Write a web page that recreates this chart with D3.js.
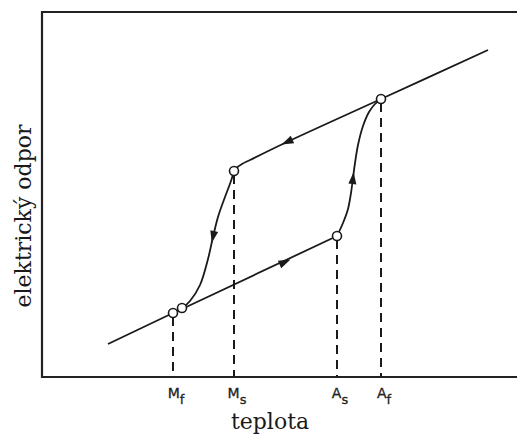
<!DOCTYPE html>
<html><head><meta charset="utf-8">
<script src="https://cdn.jsdelivr.net/npm/d3@7"></script>
<style>body{margin:0;background:#fff}svg{display:block}</style>
</head><body>
<svg id="c" width="517" height="434"></svg>
<script>
// Data (temperature x, resistance y in arbitrary units)
const tickNames = ["M", "M", "A", "A"];
const tickSubs = ["f", "s", "s", "f"];
const tickTemps = [131, 192, 295, 339];
const tickRes = [64, 206, 141, 278];
const lowerLineX = [66, 131, 140, 295];
const lowerLineY = [33, 64, 68, 141];
const upperLineX = [446, 339, 245, 208, 200, 195, 192];
const upperLineY = [327, 278, 235, 217, 213, 209.5, 206];
const coolCurveX = [192, 189, 183, 176, 171, 166, 158, 148, 140];
const coolCurveY = [206, 196, 180, 160, 140, 118, 92, 76, 69];
const heatCurveX = [295, 301, 306, 309, 311, 313, 316, 321, 327, 333, 339];
const heatCurveY = [141, 154, 168, 184, 199, 214, 232, 251, 265, 273, 278];
const extraCircleX = [140];
const extraCircleY = [69];
const arrowX = [245, 243, 171, 311];
const arrowY = [235, 115, 140, 199];
const arrowDir = ["left", "right", "down", "up"];

const svg = d3.select("#c");
const x = d3.scaleLinear().domain([0, 475]).range([42, 517]);
const y = d3.scaleLinear().domain([0, 365]).range([377, 12]);
const ink = "#1a1a1a";

// frame
svg.append("path")
  .attr("d", `M517,${y(365)}H${x(0)}V${y(0)}H517`)
  .attr("fill", "none").attr("stroke", "#222").attr("stroke-width", 2.2);

// dashed guides
tickTemps.forEach((t, i) => {
  svg.append("line")
    .attr("x1", x(t)).attr("x2", x(t))
    .attr("y1", y(tickRes[i]) + 4).attr("y2", y(0))
    .attr("stroke", ink).attr("stroke-width", 2)
    .attr("stroke-dasharray", "9,6");
});

const line = d3.line().x(d => x(d[0])).y(d => y(d[1]));
const curve = d3.line().x(d => x(d[0])).y(d => y(d[1])).curve(d3.curveCatmullRom.alpha(0.5));
function draw(xs, ys, gen) {
  svg.append("path").attr("d", gen(xs.map((v, i) => [v, ys[i]])))
    .attr("fill", "none").attr("stroke", ink).attr("stroke-width", 1.8);
}
draw(lowerLineX, lowerLineY, line);
draw(upperLineX, upperLineY, curve);
draw(coolCurveX, coolCurveY, curve);
draw(heatCurveX, heatCurveY, curve);

// arrows
const slopeAng = Math.atan2(y(327) - y(278), x(446) - x(339)) * 180 / Math.PI;
arrowX.forEach((ax, i) => {
  let ang;
  if (arrowDir[i] === "left") ang = slopeAng + 180;
  else if (arrowDir[i] === "right") ang = slopeAng;
  else if (arrowDir[i] === "down") ang = 102;
  else ang = -84;
  svg.append("path")
    .attr("d", "M6,0L-6,-4L-6,4Z")
    .attr("transform", `translate(${x(ax)},${y(arrowY[i])}) rotate(${ang})`)
    .attr("fill", ink);
});

// circles
const cx = tickTemps.concat(extraCircleX), cy = tickRes.concat(extraCircleY);
cx.forEach((v, i) => {
  svg.append("circle").attr("cx", x(v)).attr("cy", y(cy[i])).attr("r", 4.5)
    .attr("fill", "#fff").attr("stroke", ink).attr("stroke-width", 1.6);
});

// tick labels
tickTemps.forEach((t, i) => {
  const tx = svg.append("text").attr("x", x(t) + 3).attr("y", 398)
    .attr("text-anchor", "middle")
    .attr("font-family", "DejaVu Sans, sans-serif")
    .attr("font-size", 14).attr("fill", "#222")
    .attr("stroke", "#222").attr("stroke-width", 0.3);
  tx.append("tspan").text(tickNames[i]);
  tx.append("tspan").attr("dy", 6).attr("font-size", 13).text(tickSubs[i]);
});

// axis titles
svg.append("text").attr("x", 270).attr("y", 429).attr("text-anchor", "middle")
  .attr("font-family", "DejaVu Serif, serif")
  .attr("font-size", 22).attr("fill", ink).text("teplota");
svg.append("text").attr("transform", "translate(31,216) rotate(-90)")
  .attr("text-anchor", "middle")
  .attr("font-family", "DejaVu Serif, serif")
  .attr("font-size", 22).attr("fill", ink).text("elektrický odpor");
</script>
</body></html>
